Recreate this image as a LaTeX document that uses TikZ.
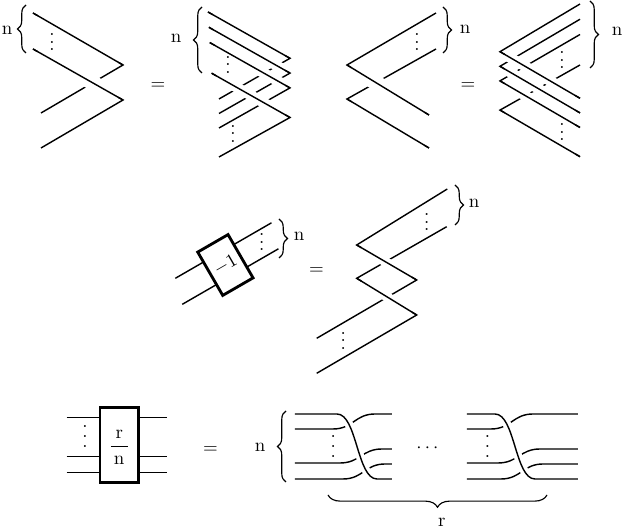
\documentclass[tikz,border=0pt]{standalone}
\usetikzlibrary{decorations.pathreplacing}

\newcommand\wvdots{\vbox{\baselineskip5.3pt\lineskiplimit0pt\hbox{.}\hbox{.}\hbox{.}}}

\begin{document}
\begin{tikzpicture}
        [x=0.53pt,y=0.53pt,line width=0.75pt,
        over/.style={preaction={draw=white,line width=#1,shorten <=3pt,shorten >=3pt}},
        brc/.style={decorate,decoration={brace,amplitude=#1},line width=0.6pt},
        brc/.default=4.5pt,
        box/.style={draw,line width=1.5pt,fill=white},
        lbl/.style={inner sep=0pt},
        dts/.style={inner sep=0pt,anchor=base}]
        \useasboundingbox (0,0) rectangle (623,-528);
        %% top row, left pair
        \foreach \ya/\yb/\yc in {13/65/113,49/100/148}
        {
          \draw (33,-\ya) -- (123,-\yb) -- (41,-\yc);
        }
        \foreach \ya/\yb in {13/65,49/100}
        {
          \draw[over=8pt] (33,-\ya) -- (123,-\yb);
        }
        \draw[brc] (26,-53) -- (26,-5);
        \node[lbl] (nA) at (7,-30) {n};
        \node[dts] (dA) at (52,-51) {$\vdots$};
        \node[dts] (eqA) at (158,-89.7) {$=$};
        %%
        \foreach \k in {0,1,2,4}
        {
          \draw ({208+0.9*\k},{-12-15.3*\k}) -- (290,{-58.3-14.8*\k}) -- (219,{-99-14.5*\k});
        }
        \foreach \k in {0,1,2,4}
        {
          \draw[over=5.5pt] ({208+0.9*\k},{-12-15.3*\k}) -- (290,{-58.3-14.8*\k});
        }
        \draw[brc] (202,-73) -- (202,-7);
        \node[lbl] (nB) at (176,-38) {n};
        \node[dts] (dB) at (228,-73.5) {$\vdots$};
        \node[dts] (dB') at (233,-142.5) {$\vdots$};
        %% top row, right pair
        \foreach \ya/\yb/\yc in {13/65/115,49/99/148}
        {
          \draw (436,-\ya) -- (347,-\yb) -- (429,-\yc);
        }
        \foreach \yb/\yc in {65/115,99/148}
        {
          \draw[over=8pt] (347,-\yb) -- (429,-\yc);
        }
        \draw[brc] (443,-7) -- (443,-53);
        \node[lbl] (nC) at (465,-29) {n};
        \node[dts] (dC) at (417,-51) {$\vdots$};
        \node[dts] (eqC) at (468,-89.7) {$=$};
        %%
        \foreach \k in {0,1,2,4}
        {
          \draw (580,{-4-15.25*\k}) -- (500,{-51.7-14.6*\k}) -- (580,{-98.3-14.6*\k});
        }
        \foreach \k in {0,1,2,4}
        {
          \draw[over=5.5pt] (500,{-51.7-14.6*\k}) -- (580,{-98.3-14.6*\k});
        }
        \draw[brc] (590,-1) -- (590,-68);
        \node[lbl] (nD) at (617,-31) {n};
        \node[dts] (dD) at (562,-69) {$\vdots$};
        \node[dts] (dD') at (562,-141) {$\vdots$};
        %% middle row
        \begin{scope}[shift={(225.4,-265)},rotate=30]
          \draw (-50,13.5) -- (61,13.5);
          \draw (-57,-12.5) -- (54,-12.5);
          \draw[box] (-17.5,-25) rectangle (17.5,25);
          \node[rotate=30] (inv) at (0,0) {$-1$};
        \end{scope}
        \draw[brc] (279,-219) -- (279,-258);
        \node[lbl] (nE) at (299,-236) {n};
        \node[dts] (dE) at (261.7,-251) {$\vdots$};
        \node[dts] (eqE) at (316.5,-274.7) {$=$};
        %%
        \coordinate (a1) at (447.3,-189);
        \coordinate (a2) at (356.7,-245);
        \coordinate (a3) at (416.7,-280);
        \coordinate (a4) at (316.7,-338.3);
        \coordinate (b1) at (446.7,-226.7);
        \coordinate (b2) at (356.7,-278.3);
        \coordinate (b3) at (416.7,-315);
        \coordinate (b4) at (316.7,-373.3);
        \draw (a1) -- (a2) -- (a3) -- (a4);
        \draw (b1) -- (b2) -- (b3) -- (b4);
        \draw[over=5pt] (a2) -- (a3);
        \draw[over=5pt] (b2) -- (b3);
        \draw[brc] (455,-185) -- (455,-225);
        \node[lbl] (nF) at (474,-203) {n};
        \node[dts] (dF) at (426.7,-231) {$\vdots$};
        \node[dts] (dF') at (343.3,-349.3) {$\vdots$};
        %% bottom row
        \foreach \y in {417.7,456.7,472.3}
        {
          \draw (66.7,-\y) -- (166.7,-\y);
        }
        \draw[box] (100,-407.7) rectangle (138.3,-482.3);
        \node (frac) at (119.2,-447.4) {$\displaystyle\frac{\,\mathrm{r}\,}{\,\mathrm{n}\,}$};
        \node[dts] (dG) at (85,-447.7) {\wvdots};
        \node[dts] (eqG) at (210.5,-453.2) {$=$};
        %%
        \foreach \xs/\xo/\xe/\xd in {295/0/392/333.3,467/158/578/487.5}
        {
          \foreach \ya/\yb/\xa in {429/414/333,463/449/340,479/464/343}
          {
            \draw (\xs,-\ya) -- (\xo+\xa,-\ya) .. controls (\xo+\xa+20,-\ya) and (\xo+\xa+22,-\yb) .. (\xo+\xa+42,-\yb) -- (\xe,-\yb);
          }
          \draw[over=4.5pt] (\xs,-414) -- (\xo+337,-414) .. controls (\xo+357,-414) and (\xo+357,-479) .. (\xo+377,-479) -- (\xe,-479);
          \node[dts] (tw\xs) at (\xd,-457.7) {\wvdots};
        }
        \node[dts] (cd) at (427.5,-453) {$\cdots$};
        \draw[brc] (286,-482) -- (286,-411);
        \node[lbl] (nH) at (260,-447.5) {n};
        \draw[brc=6.5pt] (547,-495) -- (328,-495);
        \node[lbl] (r) at (441.7,-522) {r};
\end{tikzpicture}
\end{document}
